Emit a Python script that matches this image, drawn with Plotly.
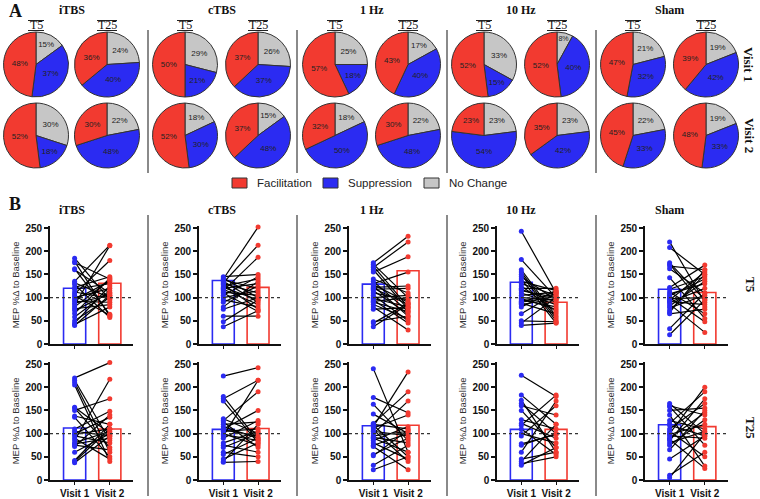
import plotly.graph_objects as go

W, H = 760, 499

RED = '#F23A30'
BLUE = '#2B2BF2'
GRAY = '#C6C6C6'
SANS = 'Liberation Sans, Arial'
SERIF = 'Liberation Serif, Times New Roman'

groups = ['iTBS', 'cTBS', '1 Hz', '10 Hz', 'Sham']
slice_labels = ['No Change', 'Suppression', 'Facilitation']

# Panel A: % of participants per response class
fac_v1_t5 = [48, 50, 57, 52, 47]
sup_v1_t5 = [37, 21, 18, 15, 32]
nc_v1_t5 = [15, 29, 25, 33, 21]
fac_v1_t25 = [36, 37, 43, 52, 39]
sup_v1_t25 = [40, 37, 40, 40, 42]
nc_v1_t25 = [24, 26, 17, 8, 19]
fac_v2_t5 = [52, 52, 32, 23, 45]
sup_v2_t5 = [18, 30, 50, 54, 33]
nc_v2_t5 = [30, 18, 18, 23, 22]
fac_v2_t25 = [30, 37, 30, 35, 48]
sup_v2_t25 = [48, 48, 48, 42, 33]
nc_v2_t25 = [22, 15, 22, 23, 19]

# Panel B: bar heights (group means)
bar_t5_v1 = [120, 137, 129, 133, 118]
bar_t5_v2 = [131, 122, 158, 90, 111]
bar_t25_v1 = [112, 109, 117, 109, 119]
bar_t25_v2 = [110, 111, 118, 109, 115]

# Panel B: individual MEP %change, paired visit 1 / visit 2
itbs_t5_v1 = [185, 178, 175, 162, 160, 135, 132, 128, 122, 118, 112, 108, 104, 100, 96, 92, 88, 84, 80, 76, 72, 66, 58, 50, 45, 42, 40]
itbs_t5_v2 = [95, 60, 140, 64, 110, 213, 100, 57, 145, 130, 98, 180, 62, 120, 135, 90, 105, 212, 138, 85, 110, 142, 115, 100, 125, 80, 105]
ctbs_t5_v1 = [145, 142, 140, 138, 135, 132, 130, 128, 125, 122, 120, 118, 115, 112, 110, 105, 100, 95, 90, 80, 75, 60, 48, 37]
ctbs_t5_v2 = [150, 100, 252, 120, 90, 213, 110, 75, 140, 95, 130, 85, 187, 105, 70, 145, 115, 80, 125, 135, 100, 60, 95, 72]
hz1_t5_v1 = [175, 172, 168, 165, 160, 155, 140, 135, 130, 128, 125, 122, 120, 118, 115, 110, 105, 100, 98, 95, 92, 90, 85, 80, 75, 48, 45, 37]
hz1_t5_v2 = [232, 100, 80, 220, 75, 188, 110, 70, 155, 90, 60, 125, 85, 120, 65, 95, 50, 105, 80, 45, 100, 70, 55, 30, 78, 60, 88, 85]
hz10_t5_v1 = [243, 182, 160, 155, 150, 145, 140, 135, 130, 125, 120, 118, 115, 110, 105, 100, 98, 95, 92, 90, 88, 85, 80, 65, 50, 45, 40]
hz10_t5_v2 = [110, 100, 60, 55, 50, 95, 45, 115, 105, 70, 120, 90, 100, 85, 112, 95, 75, 80, 108, 102, 65, 98, 115, 110, 48, 100, 45]
sham_t5_v1 = [220, 208, 175, 172, 168, 162, 143, 122, 118, 112, 108, 104, 100, 98, 95, 92, 90, 86, 82, 78, 72, 68, 65, 33, 20]
sham_t5_v2 = [90, 150, 95, 80, 160, 110, 55, 170, 145, 65, 130, 140, 48, 100, 155, 85, 120, 25, 135, 105, 150, 160, 75, 110, 95]

itbs_t25_v1 = [220, 215, 210, 205, 157, 155, 150, 138, 135, 110, 105, 100, 98, 95, 90, 85, 80, 78, 75, 72, 60, 42, 40, 37]
itbs_t25_v2 = [253, 85, 60, 40, 100, 70, 175, 120, 50, 148, 95, 135, 110, 80, 45, 217, 105, 90, 65, 140, 100, 120, 110, 95]
ctbs_t25_v1 = [224, 180, 175, 170, 132, 128, 125, 120, 115, 110, 108, 105, 100, 98, 95, 90, 80, 75, 70, 60, 55, 45, 40, 38]
ctbs_t25_v2 = [242, 85, 215, 80, 100, 190, 70, 125, 90, 150, 95, 110, 75, 85, 215, 128, 105, 60, 100, 50, 90, 80, 120, 40]
hz1_t25_v1 = [240, 178, 163, 142, 122, 120, 118, 115, 112, 108, 105, 100, 95, 92, 90, 85, 80, 75, 72, 55, 52, 32, 22]
hz1_t25_v2 = [60, 145, 85, 100, 190, 110, 50, 233, 140, 40, 95, 170, 105, 80, 60, 115, 45, 100, 22, 90, 108, 75, 50]
hz10_t25_v1 = [226, 183, 172, 165, 160, 150, 130, 122, 118, 110, 100, 95, 78, 75, 60, 45, 40, 35, 32]
hz10_t25_v2 = [180, 120, 60, 100, 140, 70, 110, 90, 183, 55, 80, 160, 98, 100, 170, 60, 120, 50, 70]
sham_t25_v1 = [165, 160, 158, 150, 140, 128, 122, 118, 110, 105, 100, 98, 95, 90, 88, 85, 80, 75, 65, 45, 10, 5]
sham_t25_v2 = [100, 140, 75, 155, 30, 110, 190, 95, 165, 50, 200, 120, 90, 145, 25, 175, 105, 130, 150, 95, 60, 100]


def px(x):
    return x / W


def py(y):
    return 1 - y / H


def note(x, y, text, font, **kw):
    d = dict(x=px(x), y=py(y), xref='paper', yref='paper', text=text, showarrow=False,
             font=font, xanchor='center', yanchor='middle')
    d.update(kw)
    return d


fig = go.Figure()
shapes = []
annotations = []

# ---------- Panel A: pies ----------
pie_cx = [(36, 107), (185, 258), (335, 408), (484, 557), (633, 706)]
pie_cy = [64.5, 135.5]
R = 32.5

pie_rows = [
    [(fac_v1_t5, sup_v1_t5, nc_v1_t5), (fac_v1_t25, sup_v1_t25, nc_v1_t25)],
    [(fac_v2_t5, sup_v2_t5, nc_v2_t5), (fac_v2_t25, sup_v2_t25, nc_v2_t25)],
]

for r in range(2):
    for g in range(5):
        for c in range(2):
            fac, sup, nc = pie_rows[r][c]
            vals = [nc[g], sup[g], fac[g]]
            cx, cy = pie_cx[g][c], pie_cy[r]
            fig.add_trace(go.Pie(
                values=vals, labels=slice_labels,
                text=[f'{v}%' for v in vals], textinfo='text',
                textposition='inside', insidetextorientation='horizontal',
                textfont=dict(size=8, color='#222', family=SANS),
                sort=False, direction='clockwise', rotation=0,
                marker=dict(colors=[GRAY, BLUE, RED], line=dict(color='#333', width=1)),
                domain=dict(x=[px(cx - R), px(cx + R)], y=[py(cy + R), py(cy - R)]),
                showlegend=False, hoverinfo='skip'))

title_font = dict(family=SERIF, size=12, color='#111')
for g in range(5):
    for c, lab in enumerate(['T5', 'T25']):
        cx = pie_cx[g][c]
        hw = 8 if lab == 'T5' else 10
        annotations.append(note(cx, 25.5, lab, title_font))
        for ly in (20.5, 30.5):
            shapes.append(dict(type='line', xref='paper', yref='paper',
                               x0=px(cx - hw), x1=px(cx + hw), y0=py(ly), y1=py(ly),
                               line=dict(color='#222', width=1)))
    mid = sum(pie_cx[g]) / 2
    annotations.append(note(mid, 10, f'<b>{groups[g]}</b>', title_font))
    annotations.append(note(mid, 210, f'<b>{groups[g]}</b>', title_font))

side_font = dict(family=SERIF, size=13, color='#111')
for ty, lab in [(64, 'Visit 1'), (135, 'Visit 2')]:
    annotations.append(note(749, ty, f'<b>{lab}</b>', side_font, textangle=90))
for ty, lab in [(285, 'T5'), (428, 'T25')]:
    annotations.append(note(751, ty, f'<b>{lab}</b>', side_font, textangle=90))

letter_font = dict(family=SERIF, size=18, color='#111')
annotations.append(note(7, 11, '<b>A</b>', letter_font, xanchor='left'))
annotations.append(note(7, 204, '<b>B</b>', letter_font, xanchor='left'))

# legend for pies
for (bx0, bx1, tx, lab, col) in [(232, 247, 255, 'Facilitation', RED),
                                 (323, 338, 346, 'Suppression', BLUE),
                                 (424, 439, 447, 'No Change', GRAY)]:
    shapes.append(dict(type='rect', xref='paper', yref='paper',
                       x0=px(bx0), x1=px(bx1), y0=py(188), y1=py(178),
                       fillcolor=col, line=dict(color='#333', width=1)))
    annotations.append(note(tx, 183, lab, dict(family=SANS, size=11.5, color='#222'),
                            xanchor='left'))

# separators
for sx in [148, 297, 447, 596]:
    shapes.append(dict(type='line', xref='paper', yref='paper', x0=px(sx), x1=px(sx),
                       y0=py(30), y1=py(173), line=dict(color='#8a8a8a', width=2)))
    shapes.append(dict(type='line', xref='paper', yref='paper', x0=px(sx), x1=px(sx),
                       y0=py(215), y1=py(496), line=dict(color='#8a8a8a', width=2)))

# ---------- Panel B: bars + paired points ----------
ax_x = [(50, 133), (199, 281), (349, 431), (497, 579), (645, 728)]
ax_zero = [344, 480]
YMAX = 255
PX_PER_UNIT = 116 / 250

row_data = [
    [(itbs_t5_v1, itbs_t5_v2), (ctbs_t5_v1, ctbs_t5_v2), (hz1_t5_v1, hz1_t5_v2),
     (hz10_t5_v1, hz10_t5_v2), (sham_t5_v1, sham_t5_v2)],
    [(itbs_t25_v1, itbs_t25_v2), (ctbs_t25_v1, ctbs_t25_v2), (hz1_t25_v1, hz1_t25_v2),
     (hz10_t25_v1, hz10_t25_v2), (sham_t25_v1, sham_t25_v2)],
]
row_bars = [(bar_t5_v1, bar_t5_v2), (bar_t25_v1, bar_t25_v2)]

layout_axes = {}
for r in range(2):
    for g in range(5):
        k = r * 5 + g + 1
        xa = 'x' if k == 1 else f'x{k}'
        ya = 'y' if k == 1 else f'y{k}'
        v1, v2 = row_data[r][g]
        b1, b2 = row_bars[r]

        fig.add_trace(go.Bar(x=[0, 1], y=[b1[g], b2[g]], width=0.63,
                             marker=dict(color='rgba(255,255,255,0)',
                                         line=dict(color=[BLUE, RED], width=1.6)),
                             xaxis=xa, yaxis=ya, showlegend=False, hoverinfo='skip'))
        lx, ly = [], []
        for a, b in zip(v1, v2):
            lx += [0, 1, None]
            ly += [a, b, None]
        fig.add_trace(go.Scatter(x=lx, y=ly, mode='lines', line=dict(color='black', width=1.2),
                                 xaxis=xa, yaxis=ya, showlegend=False, hoverinfo='skip'))
        fig.add_trace(go.Scatter(x=[0] * len(v1), y=v1, mode='markers',
                                 marker=dict(color=BLUE, size=5), cliponaxis=False,
                                 xaxis=xa, yaxis=ya, showlegend=False, hoverinfo='skip'))
        fig.add_trace(go.Scatter(x=[1] * len(v2), y=v2, mode='markers',
                                 marker=dict(color=RED, size=5), cliponaxis=False,
                                 xaxis=xa, yaxis=ya, showlegend=False, hoverinfo='skip'))

        shapes.append(dict(type='line', xref=f'{xa} domain', yref=ya, x0=0, x1=1, y0=100, y1=100,
                           line=dict(color='#333', width=1.1, dash='dot')))

        x0, x1 = ax_x[g]
        zero = ax_zero[r]
        top = zero - YMAX * PX_PER_UNIT
        xkey = 'xaxis' if k == 1 else f'xaxis{k}'
        ykey = 'yaxis' if k == 1 else f'yaxis{k}'
        layout_axes[xkey] = dict(
            domain=[px(x0), px(x1)], range=[-0.7, 1.66], anchor=ya,
            showline=True, linecolor='#111', linewidth=1.6,
            ticks='outside', ticklen=3, tickwidth=1.4, tickcolor='#111',
            tickvals=[0, 1], ticktext=['Visit 1', 'Visit 2'], showticklabels=(r == 1),
            tickangle=0,
            tickfont=dict(family=SANS, size=10, color='#111', weight='bold'),
            showgrid=False, zeroline=False, automargin=False, fixedrange=True)
        layout_axes[ykey] = dict(
            domain=[py(zero), py(top)], range=[0, YMAX], anchor=xa,
            showline=True, linecolor='#111', linewidth=1.6,
            ticks='outside', ticklen=4, tickwidth=1.6, tickcolor='#111',
            tickvals=[0, 50, 100, 150, 200, 250],
            tickfont=dict(family=SANS, size=10, color='#111', weight='bold'),
            title=dict(text='MEP %Δ to Baseline', standoff=4,
                       font=dict(family=SANS, size=9.5, color='#333')),
            showgrid=False, zeroline=False, automargin=False, fixedrange=True)

fig.update_layout(
    width=W, height=H, margin=dict(l=0, r=0, t=0, b=0),
    template='none', paper_bgcolor='white', plot_bgcolor='rgba(0,0,0,0)',
    barmode='overlay', showlegend=False,
    shapes=shapes, annotations=annotations,
    **layout_axes)

# page body has a default 8px margin; drop it so the figure fills the window
fig.write_html("out.html", config={'displayModeBar': False},
               post_script="document.body.style.margin='0';")
